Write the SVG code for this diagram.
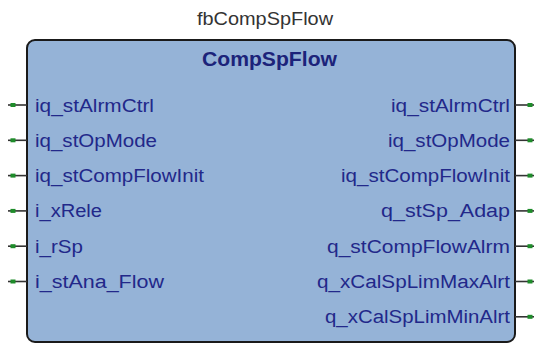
<svg xmlns="http://www.w3.org/2000/svg" width="534" height="344" viewBox="0 0 534 344">
<style>
.title{font-family:"Liberation Sans",Arial,sans-serif;font-size:18px;fill:#333333}
.hdr{font-family:"Liberation Sans",Arial,sans-serif;font-size:20px;font-weight:bold;fill:#1c237a}
.pin{font-family:"Liberation Sans",Arial,sans-serif;font-size:18px;fill:#22288a}
.stub{stroke:#333333;stroke-width:1.6}
.dot{fill:#1e8c2a}
.box{fill:#95b3d7;stroke:#1a1a1a;stroke-width:2}
</style>
<defs>
<g id="lpin"><line class="stub" x1="8" y1="0" x2="27" y2="0"/><rect class="dot" x="10.5" y="-2" width="5" height="4"/></g>
<g id="rpin"><line class="stub" x1="515" y1="0" x2="534" y2="0"/><rect class="dot" x="527.5" y="-2" width="5" height="4"/></g>
</defs>
<text class="title" x="265" y="25" text-anchor="middle" textLength="136" lengthAdjust="spacingAndGlyphs">fbCompSpFlow</text>
<g id="block">
<rect class="box" x="27" y="40" width="488" height="302" rx="8"/>
<text class="hdr" x="269.5" y="66" text-anchor="middle" textLength="135" lengthAdjust="spacingAndGlyphs">CompSpFlow</text>
</g>
<g id="connectors">
<use href="#lpin" y="105"/>
<use href="#lpin" y="140.3"/>
<use href="#lpin" y="175.6"/>
<use href="#lpin" y="210.9"/>
<use href="#lpin" y="246.2"/>
<use href="#lpin" y="281.5"/>
<use href="#rpin" y="105"/>
<use href="#rpin" y="140.3"/>
<use href="#rpin" y="175.6"/>
<use href="#rpin" y="210.9"/>
<use href="#rpin" y="246.2"/>
<use href="#rpin" y="281.5"/>
<use href="#rpin" y="316.8"/>
</g>
<g id="inputs">
<text class="pin" x="35" y="111.5" textLength="119" lengthAdjust="spacingAndGlyphs">iq_stAlrmCtrl</text>
<text class="pin" x="35" y="146.8" textLength="122" lengthAdjust="spacingAndGlyphs">iq_stOpMode</text>
<text class="pin" x="35" y="182.1" textLength="169" lengthAdjust="spacingAndGlyphs">iq_stCompFlowInit</text>
<text class="pin" x="35" y="217.4" textLength="67" lengthAdjust="spacingAndGlyphs">i_xRele</text>
<text class="pin" x="35" y="252.7" textLength="48" lengthAdjust="spacingAndGlyphs">i_rSp</text>
<text class="pin" x="35" y="288" textLength="129" lengthAdjust="spacingAndGlyphs">i_stAna_Flow</text>
</g>
<g id="outputs">
<text class="pin" x="510" y="111.5" text-anchor="end" textLength="119" lengthAdjust="spacingAndGlyphs">iq_stAlrmCtrl</text>
<text class="pin" x="510" y="146.8" text-anchor="end" textLength="122" lengthAdjust="spacingAndGlyphs">iq_stOpMode</text>
<text class="pin" x="510" y="182.1" text-anchor="end" textLength="169" lengthAdjust="spacingAndGlyphs">iq_stCompFlowInit</text>
<text class="pin" x="510" y="217.4" text-anchor="end" textLength="129" lengthAdjust="spacingAndGlyphs">q_stSp_Adap</text>
<text class="pin" x="510" y="252.7" text-anchor="end" textLength="183" lengthAdjust="spacingAndGlyphs">q_stCompFlowAlrm</text>
<text class="pin" x="510" y="288" text-anchor="end" textLength="193" lengthAdjust="spacingAndGlyphs">q_xCalSpLimMaxAlrt</text>
<text class="pin" x="510" y="323.3" text-anchor="end" textLength="185" lengthAdjust="spacingAndGlyphs">q_xCalSpLimMinAlrt</text>
</g>
</svg>
